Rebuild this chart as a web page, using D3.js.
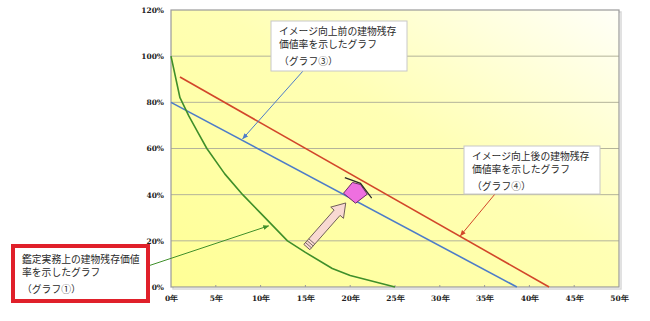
<!DOCTYPE html>
<html><head><meta charset="utf-8">
<script src="https://cdn.jsdelivr.net/npm/d3@7"></script>
<style>body{margin:0;background:#fff;}svg{display:block;}</style>
</head><body>
<svg id="c" width="650" height="321"></svg>
<script>
// ---- data ----
const yTicks = [0, 20, 40, 60, 80, 100, 120];
const yTickLabels = ["0%", "20%", "40%", "60%", "80%", "100%", "120%"];
const xTicks = [0, 5, 10, 15, 20, 25, 30, 35, 40, 45, 50];
const xTickLabels = ["0年", "5年", "10年", "15年", "20年", "25年", "30年", "35年", "40年", "45年", "50年"];
// graph 1 (appraisal practice) years / values
const g1Years = [0, 1, 2, 3, 4, 6, 8, 10, 12, 13, 15, 18, 20, 25];
const g1Values = [100, 82, 74, 67, 60, 49, 40, 32, 24, 20, 15, 8, 5, 0];
// graph 3 (before image improvement)
const g3Years = [0, 38.6];
const g3Values = [80, 0];
// graph 4 (after image improvement)
const g4Years = [1, 42.2];
const g4Values = [91, 0];
const noteTexts = {
  g3: ["イメージ向上前の建物残存", "価値率を示したグラフ", "（グラフ③）"],
  g4: ["イメージ向上後の建物残存", "価値率を示したグラフ", "（グラフ④）"],
  g1: ["鑑定実務上の建物残存価値", "率を示したグラフ", "（グラフ①）"]
};

// ---- layout ----
const svg = d3.select("#c");
const x = d3.scaleLinear().domain([0, 50]).range([171, 619]);
const y = d3.scaleLinear().domain([0, 120]).range([287, 10]);
const JP = "'Noto Sans CJK JP','Noto Sans',sans-serif";
const GREEN = "#3f8f2a", BLUE = "#4d7cc9", RED = "#d2462a";

const defs = svg.append("defs");
const grad = defs.append("linearGradient").attr("id", "bg")
  .attr("x1", "0").attr("y1", "1").attr("x2", "1").attr("y2", "0");
grad.append("stop").attr("offset", "0").attr("stop-color", "#ffff96");
grad.append("stop").attr("offset", "0.55").attr("stop-color", "#ffffb4");
grad.append("stop").attr("offset", "1").attr("stop-color", "#fffff8");
[["arB", BLUE], ["arR", RED], ["arG", GREEN]].forEach(([id, c]) => {
  defs.append("marker").attr("id", id).attr("viewBox", "0 0 10 10")
    .attr("refX", 9).attr("refY", 5).attr("markerWidth", 6).attr("markerHeight", 6)
    .attr("orient", "auto").append("path").attr("d", "M0,1L10,5L0,9z").attr("fill", c);
});

// plot background + shadow border
svg.append("rect").attr("x", x(0) + 2).attr("y", y(120) + 2)
  .attr("width", x(50) - x(0)).attr("height", y(0) - y(120))
  .attr("fill", "none").attr("stroke", "#d8d8d8").attr("stroke-width", 1.5);
svg.append("rect").attr("x", x(0)).attr("y", y(120))
  .attr("width", x(50) - x(0)).attr("height", y(0) - y(120))
  .attr("fill", "url(#bg)");

// gridlines
svg.append("g").selectAll("line").data(yTicks.filter(d => d > 0 && d < 120)).join("line")
  .attr("x1", x(0)).attr("x2", x(50)).attr("y1", d => y(d)).attr("y2", d => y(d))
  .attr("stroke", "#b4b49a").attr("stroke-width", 1);

svg.append("rect").attr("x", x(0)).attr("y", y(120))
  .attr("width", x(50) - x(0)).attr("height", y(0) - y(120))
  .attr("fill", "none").attr("stroke", "#9a9a9a").attr("stroke-width", 1.2);

// axes
const yAxis = d3.axisLeft(y).tickValues(yTicks).tickFormat((d, i) => yTickLabels[i]).tickSize(0).tickPadding(7);
const gy = svg.append("g").attr("transform", `translate(${x(0)},0)`).call(yAxis);
const xAxis = d3.axisBottom(x).tickValues(xTicks).tickFormat((d, i) => xTickLabels[i]).tickSize(0).tickPadding(9);
const gx = svg.append("g").attr("transform", `translate(0,${y(0)})`).call(xAxis);
[gx, gy].forEach(g => {
  g.select(".domain").remove();
  g.selectAll("text").attr("font-family", "'DejaVu Serif',serif").attr("font-weight", "bold")
    .attr("font-size", 7.5).attr("fill", "#222");
});
// small tick marks on x
svg.append("g").selectAll("line").data(xTicks.slice(1, -1)).join("line")
  .attr("x1", d => x(d)).attr("x2", d => x(d)).attr("y1", y(0) - 2).attr("y2", y(0))
  .attr("stroke", "#9a9a9a");

// lines
const line = d3.line().x(d => x(d[0])).y(d => y(d[1]));
svg.append("path").datum(g4Years.map((v, i) => [v, g4Values[i]]))
  .attr("d", line).attr("fill", "none").attr("stroke", RED).attr("stroke-width", 1.6);
svg.append("path").datum(g3Years.map((v, i) => [v, g3Values[i]]))
  .attr("d", line).attr("fill", "none").attr("stroke", BLUE).attr("stroke-width", 1.6);
svg.append("path").datum(g1Years.map((v, i) => [v, g1Values[i]]))
  .attr("d", line).attr("fill", "none").attr("stroke", GREEN).attr("stroke-width", 1.6)
  .attr("stroke-linejoin", "round");

// big pink arrow (from 15 years toward blue line)
const aT = [15.16, 17.3], aH = [19.5, 36.4];
(function () {
  const x0 = x(aT[0]), y0 = y(aT[1]), x1 = x(aH[0]), y1 = y(aH[1]);
  const ang = Math.atan2(y1 - y0, x1 - x0) * 180 / Math.PI;
  const L = Math.hypot(x1 - x0, y1 - y0);
  const g = svg.append("g").attr("transform", `translate(${x0},${y0}) rotate(${ang})`);
  const hw = 4, hl = 13, hh = 8.5;
  g.append("path").attr("d",
    `M0,${-hw} L${L - hl},${-hw} L${L - hl},${-hh} L${L},0 L${L - hl},${hh} L${L - hl},${hw} L0,${hw} Z`)
    .attr("fill", "#f8d9d2").attr("stroke", "#6a5a55").attr("stroke-width", 0.9);
  [2.5, 5, 7.5].forEach(s => g.append("line").attr("x1", s).attr("x2", s)
    .attr("y1", -hw).attr("y2", hw).attr("stroke", "#6a5a55").attr("stroke-width", 0.8));
})();

// house shape
const housePts = [[19.25, 40.6], [20.25, 45.3], [21.15, 44.4], [21.9, 40.2], [20.6, 36.3]];
svg.append("path").attr("d", "M" + housePts.map(p => [x(p[0]), y(p[1])].join(",")).join("L") + "Z")
  .attr("fill", "#ee6fe0").attr("stroke", "#6b2a6a").attr("stroke-width", 1);
const roofPts = [[19.4, 47.4], [21.15, 44.9], [22.4, 38.5]];
svg.append("path").attr("d", "M" + roofPts.map(p => [x(p[0]), y(p[1])].join(",")).join("L"))
  .attr("fill", "none").attr("stroke", "#2a2a2a").attr("stroke-width", 1.2);

// annotation boxes
function note(bx, by, bw, bh, lines, opts) {
  const g = svg.append("g");
  g.append("rect").attr("x", bx).attr("y", by).attr("width", bw).attr("height", bh)
    .attr("fill", "#fff").attr("stroke", opts.stroke).attr("stroke-width", opts.sw);
  lines.forEach((t, i) => g.append("text").attr("x", bx + opts.px).attr("y", by + opts.ys[i])
    .attr("font-family", JP).attr("font-size", 9.8).attr("fill", "#2a2a2a").text(t));
}
function leader(p0, p1, color, mk) {
  svg.append("line").attr("x1", p0[0]).attr("y1", p0[1]).attr("x2", x(p1[0])).attr("y2", y(p1[1]))
    .attr("stroke", color).attr("stroke-width", 1).attr("marker-end", `url(#${mk})`);
}
leader([303, 71], [8.0, 64.2], BLUE, "arB");
leader([495, 194], [32.3, 22.2], RED, "arR");
leader([148, 266], [10.9, 26.5], GREEN, "arG");
note(271, 21, 136, 50, noteTexts.g3, { stroke: "#c8c8c8", sw: 1, px: 8, ys: [14, 27, 44] });
note(464, 146, 136, 48, noteTexts.g4, { stroke: "#c8c8c8", sw: 1, px: 8, ys: [14, 27, 44] });
note(13, 246, 135, 55, noteTexts.g1, { stroke: "#e0202a", sw: 4, px: 9, ys: [17, 30, 47] });
</script>
</body></html>
